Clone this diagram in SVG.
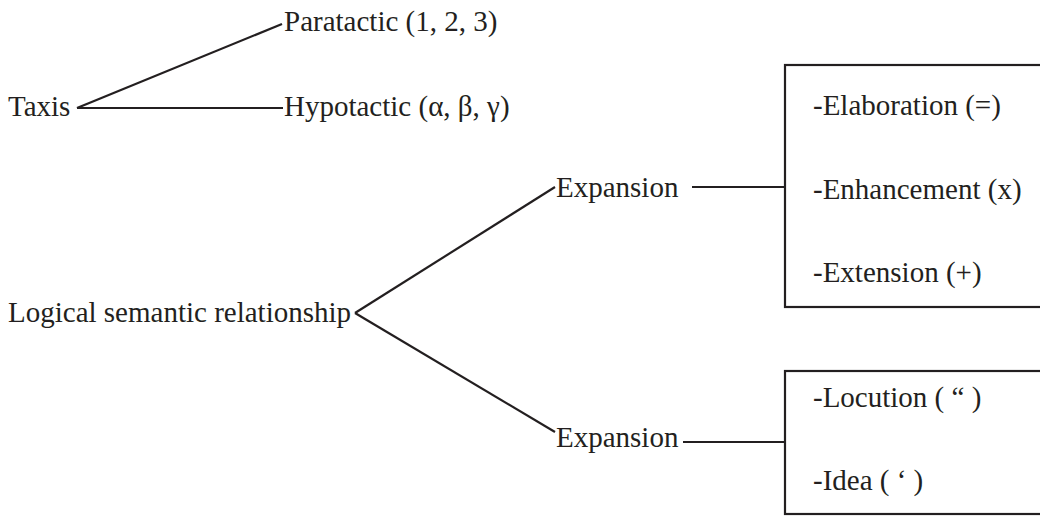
<svg xmlns="http://www.w3.org/2000/svg" width="1040" height="516" viewBox="0 0 1040 516">
<style>
text{font-family:'Liberation Serif','Times New Roman',serif;font-size:29px;fill:#231f20}
.c line{stroke:#231f20;stroke-width:2.2;fill:none}
.box{fill:none;stroke:#231f20;stroke-width:2.2}
</style>
<rect width="1040" height="516" fill="#fff"/>
<g class="c" id="connectors">
<line x1="77" y1="108" x2="282" y2="24"/>
<line x1="77" y1="108" x2="283" y2="108"/>
<line x1="355" y1="313" x2="555" y2="187"/>
<line x1="355" y1="313" x2="555" y2="432"/>
<line x1="692" y1="187" x2="785" y2="187"/>
<line x1="683" y1="442" x2="785" y2="442"/>
</g>
<g id="taxis"><text x="8" y="116">Taxis</text></g>
<g id="paratactic"><text x="284" y="31">Paratactic (1, 2, 3)</text></g>
<g id="hypotactic"><text x="284" y="116">Hypotactic (α, β, γ)</text></g>
<g id="lsr"><text x="8" y="322">Logical semantic relationship</text></g>
<g id="expansion1"><text x="556" y="197">Expansion</text></g>
<g id="expansion2"><text x="556" y="447">Expansion</text></g>
<g id="box1">
<rect class="box" x="785" y="65" width="265" height="242"/>
<text x="813" y="115">-Elaboration (=)</text>
<text x="813" y="199">-Enhancement (x)</text>
<text x="813" y="282">-Extension (+)</text>
</g>
<g id="box2">
<rect class="box" x="785" y="371" width="265" height="143"/>
<text x="813" y="407">-Locution ( “ )</text>
<text x="813" y="490">-Idea ( ‘ )</text>
</g>
</svg>
